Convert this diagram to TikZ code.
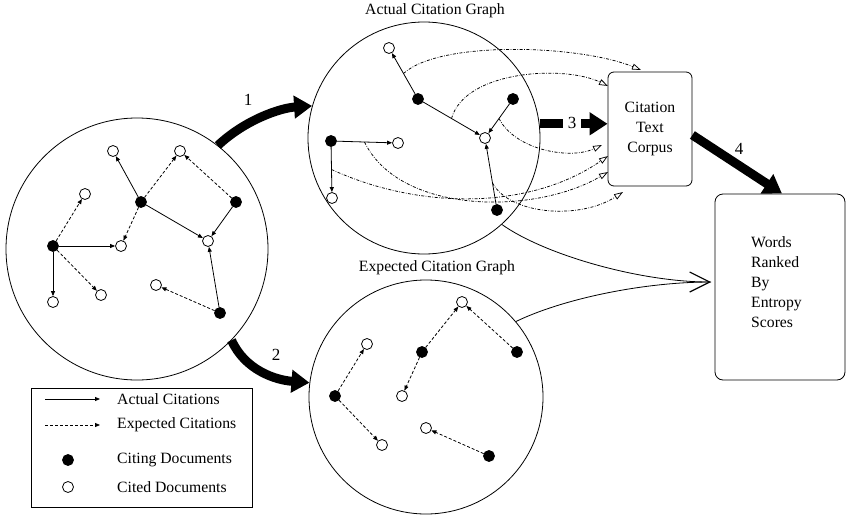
\documentclass[tikz,border=0pt]{standalone}
\usepackage{fontspec}
\setmainfont{Liberation Serif}
\usetikzlibrary{arrows.meta}
\begin{document}
\begin{tikzpicture}[x=1pt,y=-1pt,
  every node/.style={font=\fontsize{15.7pt}{20pt}\selectfont},
  fnode/.style={circle, draw, fill=black, minimum size=11pt, inner sep=0pt, line width=0.8pt},
  onode/.style={circle, draw, fill=white, minimum size=11pt, inner sep=0pt, line width=0.8pt},
  act/.style={line width=0.8pt, -{Triangle[length=5pt,width=4pt]}},
  expc/.style={act, dash pattern=on 3pt off 2pt},
  citeline/.style={line width=0.75pt, dash pattern=on 3pt off 1.5pt on 0.7pt off 1.5pt, -{Triangle[open,length=9pt,width=6pt]}},
  bigarrow/.style={line width=9pt, -{Triangle[length=18pt,width=22pt]}},
  graphcircle/.style={circle, draw, line width=0.8pt, inner sep=0pt},
  boxnode/.style={draw, rounded corners=6pt, line width=0.8pt, inner sep=0pt},
  numlabel/.style={font=\fontsize{17pt}{20pt}\selectfont}
]
\useasboundingbox (0,0) rectangle (847,517);

% big circles
\node[graphcircle, minimum size=262pt] (G0) at (137,249) {};
\node[graphcircle, minimum size=232pt] (G1) at (424,138) {};
\node[graphcircle, minimum size=234pt] (G2) at (426,397) {};
\node (T1) at (435,11) {Actual Citation Graph};
\node (T2) at (437,268) {Expected Citation Graph};

% boxes
\node[boxnode, minimum width=84pt, minimum height=114pt, align=center] (C) at (650,129) {Citation\\Text\\Corpus};
\node[boxnode, rounded corners=8pt, minimum width=130pt, minimum height=186pt] (W) at (780,287) {};
\node[align=left, anchor=west, inner sep=0pt] (Wt) at (751,282) {Words\\Ranked\\By\\Entropy\\Scores};

% left graph
\node[onode] (b1) at (113,151) {};
\node[onode] (b2) at (180,151) {};
\node[onode] (b3) at (85,194) {};
\node[fnode] (b4) at (141,202) {};
\node[fnode] (b5) at (236,202) {};
\node[fnode] (b6) at (53,246) {};
\node[onode] (b7) at (121,246) {};
\node[onode] (b8) at (208,241) {};
\node[onode] (b9) at (53,302) {};
\node[onode] (b10) at (101,295) {};
\node[onode] (b11) at (156,285) {};
\node[fnode] (b12) at (220,313) {};
\draw[act] (b4) -- (b1);
\draw[expc] (b4) -- (b2);
\draw[expc] (b4) -- (b7);
\draw[act] (b4) -- (b8);
\draw[expc] (b5) -- (b2);
\draw[act] (b5) -- (b8);
\draw[act] (b12) -- (b8);
\draw[expc] (b12) -- (b11);
\draw[expc] (b6) -- (b3);
\draw[act] (b6) -- (b7);
\draw[act] (b6) -- (b9);
\draw[expc] (b6) -- (b10);

% top graph
\node[onode] (a1) at (389,48) {};
\node[fnode] (a2) at (418,99) {};
\node[fnode] (a3) at (513,99) {};
\node[onode] (a4) at (485,138) {};
\node[fnode] (a5) at (331,141) {};
\node[onode] (a6) at (398,143) {};
\node[onode] (a7) at (332,198) {};
\node[fnode] (a8) at (497,210) {};
\draw[act] (a2) -- (a1);
\draw[act] (a2) -- (a4);
\draw[act] (a3) -- (a4);
\draw[act] (a8) -- (a4);
\draw[act] (a5) -- (a6);
\draw[act] (a5) -- (a7);

% citation text curves
\path (a2) -- (a1) coordinate[pos=0.5] (m1);
\path (a2) -- (a4) coordinate[pos=0.5] (m2);
\path (a3) -- (a4) coordinate[pos=0.5] (m3);
\path (a5) -- (a6) coordinate[pos=0.5] (m4);
\path (a5) -- (a7) coordinate[pos=0.5] (m5);
\path (a8) -- (a4) coordinate[pos=0.35] (m6);
\coordinate (e1) at (641,70);
\coordinate (e2) at (608,86);
\coordinate (e3) at (602,145);
\coordinate (e4) at (608,172);
\coordinate (e5) at (608,156);
\coordinate (e6) at (623,192);
\draw[citeline] (m1) .. controls (440,40) and (580,45) .. (e1);
\draw[citeline] (m2) .. controls (465,70) and (565,65) .. (e2);
\draw[citeline] (m3) .. controls (515,150) and (570,160) .. (e3);
\draw[citeline] (m4) .. controls (400,215) and (535,215) .. (e4);
\draw[citeline] (m5) .. controls (420,210) and (530,210) .. (e5);
\draw[citeline] (m6) .. controls (510,215) and (580,220) .. (e6);

% bottom graph
\node[onode] (c1) at (462,302) {};
\node[onode] (c2) at (367,344) {};
\node[fnode] (c3) at (422,352) {};
\node[fnode] (c4) at (517,352) {};
\node[fnode] (c5) at (335,396) {};
\node[onode] (c6) at (402,396) {};
\node[onode] (c7) at (426,428) {};
\node[onode] (c8) at (382,445) {};
\node[fnode] (c9) at (489,456) {};
\draw[expc] (c3) -- (c1);
\draw[expc] (c4) -- (c1);
\draw[expc] (c3) -- (c6);
\draw[expc] (c5) -- (c2);
\draw[expc] (c5) -- (c8);
\draw[expc] (c9) -- (c7);

% big arrows
\draw[bigarrow] (G0.52) .. controls (245,120) and (280,108) .. (G1.164);
\node[numlabel] (n1) at (248,100) {1};
\draw[bigarrow] (G0.-44) .. controls (245,370) and (275,380) .. (G2.173);
\node[numlabel] (n2) at (276,355) {2};
\draw[bigarrow] (G1.7) -- (G1.7 -| C.west);
\node[numlabel, fill=white, inner xsep=4.5pt, inner ysep=3pt] (n3) at (572,123) {3};
\draw[bigarrow] ([yshift=-6pt]C.east) -- ([xshift=2pt]W.north);
\node[numlabel] (n4) at (739,149) {4};

% curves to words box
\coordinate (wt) at (711,282);
\draw[line width=0.8pt, -{Straight Barb[length=20pt,width=20pt,line width=1.2pt]}] (G1.-48) .. controls (545,255) and (640,282) .. (wt);
\draw[line width=0.8pt] (G2.40) .. controls (560,300) and (640,282) .. (wt);

% legend
\node[draw, line width=0.8pt, minimum width=221pt, minimum height=119pt, inner sep=0pt] (L) at (141.5,447.5) {};
\coordinate (la1) at (45,399);
\coordinate (la2) at (100,399);
\coordinate (lb1) at (45,425);
\coordinate (lb2) at (100,425);
\draw[act] (la1) -- (la2);
\draw[expc] (lb1) -- (lb2);
\node[fnode] (ld1) at (68,460) {};
\node[onode] (ld2) at (68,487) {};
\node[anchor=west, inner sep=0pt] (lt1) at (117,399) {Actual Citations};
\node[anchor=west, inner sep=0pt] (lt2) at (117,425) {Expected Citations};
\node[anchor=west, inner sep=0pt] (lt3) at (117,460) {Citing Documents};
\node[anchor=west, inner sep=0pt] (lt4) at (117,487) {Cited Documents};
\end{tikzpicture}
\end{document}
